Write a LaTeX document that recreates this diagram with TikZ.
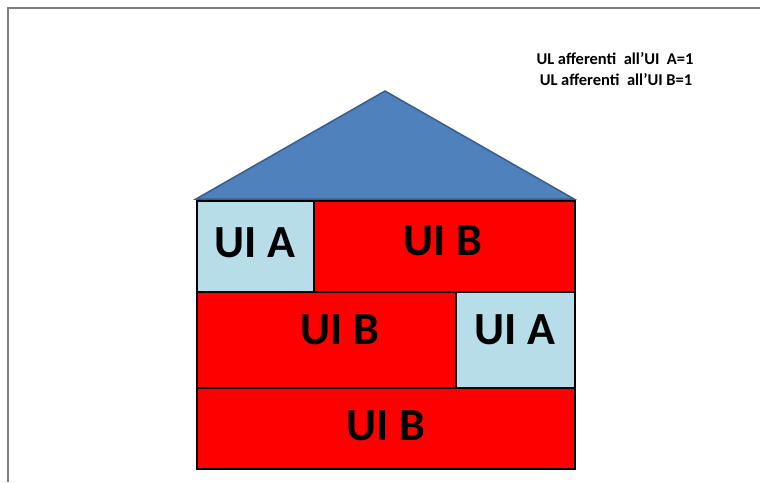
\documentclass[tikz,border=0pt]{standalone}
\usepackage{fontspec}
\setmainfont{Carlito}
\definecolor{roofblue}{HTML}{4F81BD}
\definecolor{roofedge}{HTML}{385D8A}
\definecolor{uia}{HTML}{B7DDE8}
\definecolor{uib}{HTML}{FF0000}
\definecolor{framegray}{HTML}{7F7F7F}
\begin{document}
\begin{tikzpicture}[x=1pt,y=-1pt,
  cell/.style={draw=black, line width=2pt, inner sep=0pt, anchor=north west},
  big/.style={font=\fontsize{46}{50}\selectfont\bfseries, inner sep=0pt},
  note/.style={font=\fontsize{16.5}{19}\selectfont\bfseries, inner sep=0pt}]
\useasboundingbox (0,0) rectangle (760,482);
% frame
\draw[framegray, line width=2pt] (8,482) -- (8,8) -- (760,8);
% roof
\coordinate (rl) at (196,199);
\coordinate (rr) at (574,199);
\coordinate (ra) at (385,91);
\filldraw[fill=roofblue, draw=roofedge, line width=1.5pt, line join=miter] (rl) -- (ra) -- (rr) -- cycle;
% row 1
\node[cell, fill=uia, minimum width=117pt, minimum height=91pt] (a1) at (196,200) {};
\node[cell, fill=uib, minimum width=261pt, minimum height=91pt] (b1) at (313,200) {};
% row 2
\node[cell, fill=uib, minimum width=259pt, minimum height=96pt] (b2) at (196,291) {};
\node[cell, fill=uia, minimum width=119pt, minimum height=96pt] (a2) at (455,291) {};
% row 3
\node[cell, fill=uib, minimum width=378pt, minimum height=81pt] (b3) at (196,387) {};
% labels
\node[big] (ta1) at (255,243) {UI A};
\node[big] (tb1) at (443,241) {UI B};
\node[big] (tb2) at (340,330) {UI B};
\node[big] (ta2) at (515,330) {UI A};
\node[big] (tb3) at (386,426) {UI B};
% notes
\node[note] (n1) at (615,59) {UL afferenti\ \ all’UI\ \ A=1};
\node[note] (n2) at (616,80) {UL afferenti\ \ all’UI B=1};
\end{tikzpicture}
\end{document}
